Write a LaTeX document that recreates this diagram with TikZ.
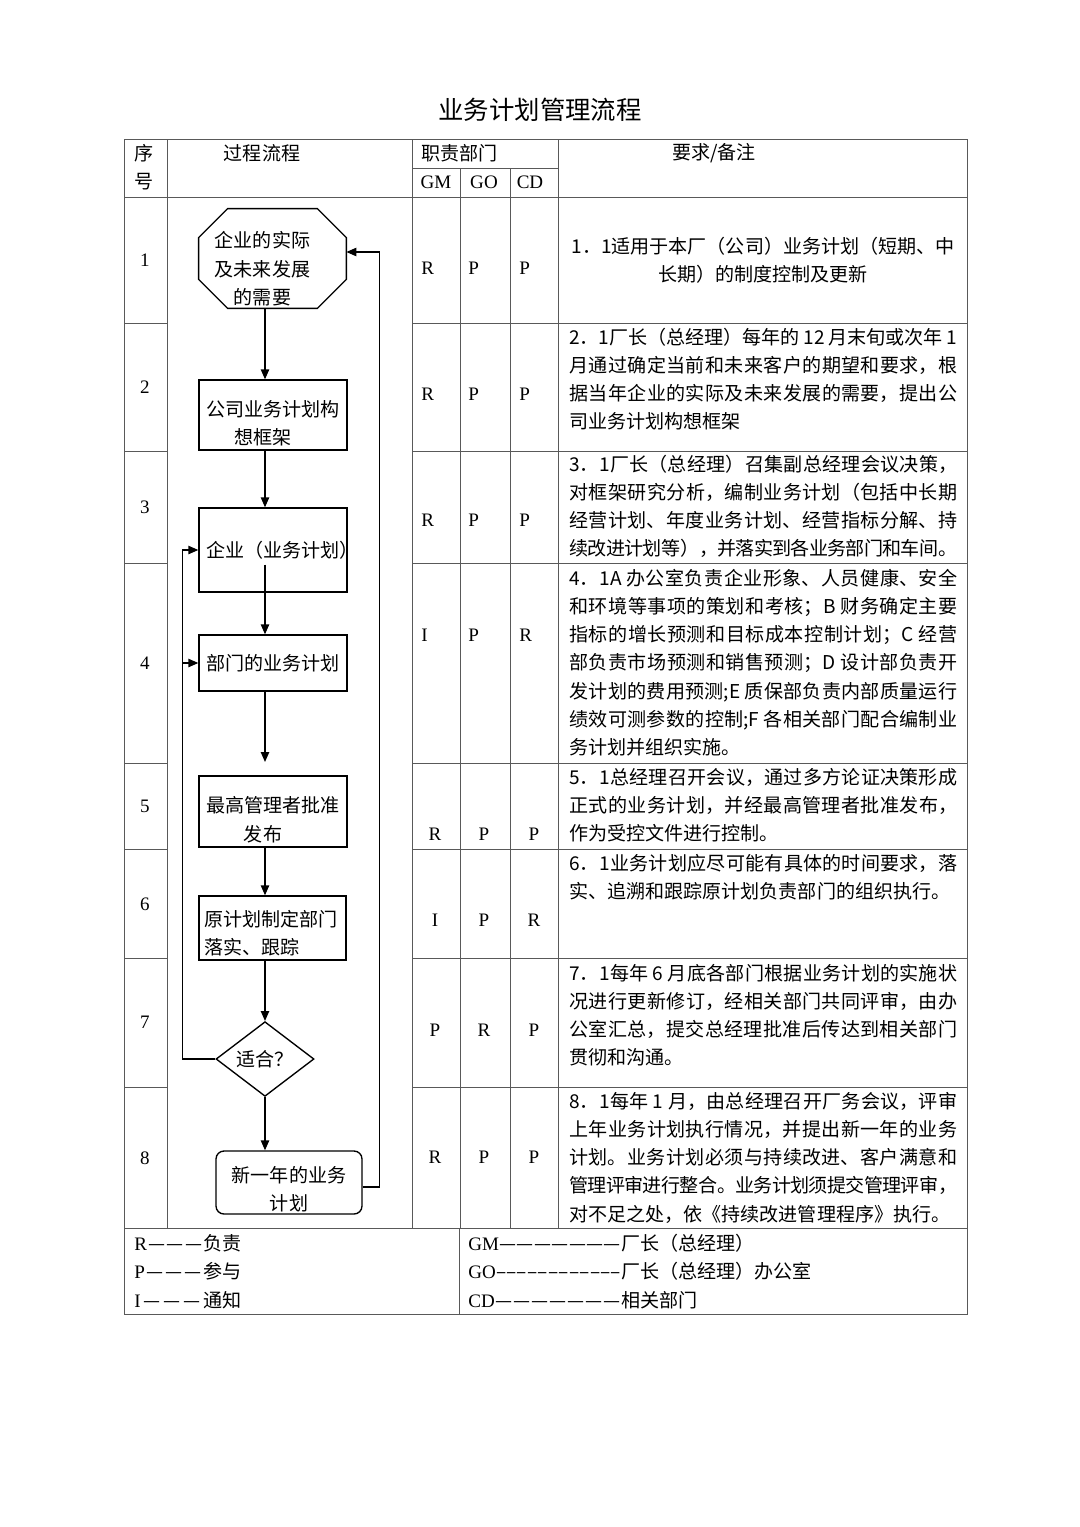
\documentclass[tikz,border=0pt]{standalone}
\usepackage{fontspec}
\setmainfont{Noto Sans CJK SC}
\newfontfamily\tm{Liberation Serif}
\usetikzlibrary{arrows.meta,shapes.geometric,calc}
\XeTeXlinebreaklocale "zh"
\XeTeXlinebreakskip=0pt plus 2pt minus 0.8pt
\linepenalty=9000
\tolerance=10000
\newlength{\pxd}
\setlength{\pxd}{0.5512pt}
\tikzset{
  grid/.style={line width=0.5pt, black!65},
  flow/.style={line width=0.75pt, -{Triangle[length=5.5pt,width=4.6pt]}},
  wh/.style={font=\fontsize{10.5}{15.6}\selectfont},
  proc/.style={draw, line width=0.75pt, wh, inner sep=0pt, minimum width=148*\pxd, align=center},
  note/.style={wh, inner sep=0pt, anchor=base west, text width=388*\pxd, align=justify},
  raci/.style={font=\tm\fontsize{10.5}{12}\selectfont, inner sep=0pt},
}
\begin{document}
\begin{tikzpicture}[x=0.5512pt, y=-0.5512pt]
  \path[use as bounding box, fill=white] (0,0) rectangle (1080,1527);
  \node[font=\fontsize{14}{16}\selectfont] (title) at (540,110) {业务计划管理流程};
  % table
  \draw[grid] (124,139) rectangle (967,1314);
  \draw[grid] (124,197) -- (967,197);
  \draw[grid] (124,1228) -- (967,1228);
  \draw[grid] (412,168) -- (558,168);
  \foreach \x in {167,412,558} \draw[grid] (\x,139) -- (\x,1228);
  \foreach \x in {460,510} \draw[grid] (\x,168) -- (\x,1228);
  \draw[grid] (459,1228) -- (459,1314);
  \foreach \y in {323,451,563,763,849,958,1087} {
    \draw[grid] (124,\y) -- (167,\y);
    \draw[grid] (412,\y) -- (967,\y);
  }
  \node[wh] (hxu) at (144,153) {序};
  \node[wh] (hhao) at (144,182) {号};
  \node[wh] (hflow) at (262,153) {过程流程};
  \node[wh, anchor=west, inner sep=0pt] (hdept) at (421,153) {职责部门};
  \node[raci] (hgm) at (436,182) {GM};
  \node[raci] (hgo) at (484,182) {GO};
  \node[raci] (hcd) at (530,182) {CD};
  \node[wh] (hnote) at (714,153) {要求/备注};
  \foreach \n/\y in {1/260,2/387,3/507,4/663,5/806,6/904,7/1022,8/1158}
    \node[raci] (no\n) at (145,\y) {\n};
  \foreach \r/\y/\a/\b/\c in {1/268/R/P/P,2/394/R/P/P,3/520/R/P/P,4/635/I/P/R} {
    \node[raci, anchor=west] (g\r) at (421,\y) {\a};
    \node[raci, anchor=west] (o\r) at (468,\y) {\b};
    \node[raci, anchor=west] (c\r) at (519,\y) {\c};
  }
  \foreach \r/\y/\a/\b/\c in {5/834/R/P/P,6/920/I/P/R,7/1030/P/R/P,8/1157/R/P/P} {
    \node[raci] (g\r) at (435,\y) {\a};
    \node[raci] (o\r) at (484,\y) {\b};
    \node[raci] (c\r) at (534,\y) {\c};
  }
  % flow
  \node[wh, inner sep=0pt, minimum width=147*\pxd, minimum height=99*\pxd, text height=51.5pt, align=center] (need) at (272.5,258.5) {企业的实际\rule{20\pxd}{0pt}\\及未来发展\rule{20\pxd}{0pt}\\的需要\rule{20\pxd}{0pt}};
  \draw[line width=0.75pt] ($(need.north west)+(29,0)$) -- ($(need.north east)+(-29,0)$)
    -- ($(need.north east)+(0,29)$) -- ($(need.south east)+(0,-29)$)
    -- ($(need.south east)+(-29,0)$) -- ($(need.south west)+(29,0)$)
    -- ($(need.south west)+(0,-29)$) -- ($(need.north west)+(0,29)$) -- cycle;
  \node[proc, minimum height=70*\pxd, text height=33.7pt] (frame) at (273,415) {公司业务计划构\\想框架\rule{20\pxd}{0pt}};
  \node[proc, minimum height=84*\pxd] (corp) at (273,550) {\makebox[134\pxd][l]{企业（业务计划）}};
  \node[proc, minimum height=56*\pxd] (dept) at (273,663) {部门的业务计划};
  \node[proc, minimum height=71*\pxd, text height=33.7pt] (issue) at (273,811.5) {最高管理者批准\\发布\rule{20\pxd}{0pt}};
  \node[proc, minimum width=147*\pxd, minimum height=64*\pxd, text height=14.8pt, text width=136*\pxd, align=left] (track) at (272.5,928) {原计划制定部门\\落实、跟踪};
  \node[draw, diamond, line width=0.75pt, wh, inner sep=0pt, minimum width=98*\pxd, minimum height=56*\pxd] (fit) at (265,1059) {适合？};
  \node[proc, rounded corners=8*\pxd, minimum width=146*\pxd, minimum height=63*\pxd, text height=31.5pt] (newplan) at (289,1182.5) {新一年的业务\\计划};
  \coordinate (gap) at (265,762);
  \draw[flow] (need.south -| fit.center) -- (frame.north -| fit.center);
  \draw[flow] (frame.south -| fit.center) -- (corp.north -| fit.center);
  \draw[flow] ($(corp.south -| fit.center)+(0,-28)$) -- (dept.north -| fit.center);
  \draw[flow] (dept.south -| fit.center) -- (gap);
  \draw[flow] (issue.south -| fit.center) -- (track.north -| fit.center);
  \draw[flow] (track.south -| fit.center) -- (fit.north);
  \draw[flow] (fit.south) -- (newplan.north -| fit.center);
  \draw[flow] ([yshift=-4.5*\pxd]newplan.east) -- ++(17,0) |- ([yshift=6.5*\pxd]need.east);
  \coordinate (back) at ($(fit.west)+(-33,0)$);
  \draw[flow] (fit.west) -- (back) |- (corp.west);
  \draw[flow] (back |- dept.west) -- (dept.west);
  % notes
  \node[wh, inner sep=0pt, align=center] (r1) at (763,260) {1．1适用于本厂（公司）业务计划（短期、中\\长期）的制度控制及更新};
  \node[note] (r2) at (569,344) {2．1厂长（总经理）每年的 12 月末旬或次年 1\linebreak 月通过确定当前和未来客户的期望和要求，根\linebreak 据当年企业的实际及未来发展的需要，提出公\linebreak 司业务计划构想框架};
  \node[note] (r3) at (569,471) {3．1厂长（总经理）召集副总经理会议决策，\linebreak 对框架研究分析，编制业务计划（包括中长期\linebreak 经营计划、年度业务计划、经营指标分解、持\linebreak 续改进计划等），并落实到各业务部门和车间。};
  \node[note] (r4) at (569,585) {4．1A 办公室负责企业形象、人员健康、安全\linebreak 和环境等事项的策划和考核；B 财务确定主要\linebreak 指标的增长预测和目标成本控制计划；C 经营\linebreak 部负责市场预测和销售预测；D 设计部负责开\linebreak 发计划的费用预测;E 质保部负责内部质量运行\linebreak 绩效可测参数的控制;F 各相关部门配合编制业\linebreak 务计划并组织实施。};
  \node[note] (r5) at (569,784) {5．1总经理召开会议，通过多方论证决策形成\linebreak 正式的业务计划，并经最高管理者批准发布，\linebreak 作为受控文件进行控制。};
  \node[note] (r6) at (569,870) {6．1业务计划应尽可能有具体的时间要求，落\linebreak 实、追溯和跟踪原计划负责部门的组织执行。};
  \node[note] (r7) at (569,980) {7．1每年 6 月底各部门根据业务计划的实施状\linebreak 况进行更新修订，经相关部门共同评审，由办\linebreak 公室汇总，提交总经理批准后传达到相关部门\linebreak 贯彻和沟通。};
  \node[note] (r8) at (569,1108) {8．1每年 1 月，由总经理召开厂务会议，评审\linebreak 上年业务计划执行情况，并提出新一年的业务\linebreak 计划。业务计划必须与持续改进、客户满意和\linebreak 管理评审进行整合。业务计划须提交管理评审，\linebreak 对不足之处，依《持续改进管理程序》执行。};
  % legend
  \node[wh, anchor=west, inner sep=0pt] (lr) at (134,1243) {\makebox[69\pxd][l]{{\tm R}\xleaders\hbox{—}\hfill}负责};
  \node[wh, anchor=west, inner sep=0pt] (lp) at (134,1271) {\makebox[69\pxd][l]{{\tm P}\xleaders\hbox{—}\hfill}参与};
  \node[wh, anchor=west, inner sep=0pt] (li) at (134,1300) {\makebox[69\pxd][l]{{\tm I}\xleaders\hbox{—}\hfill}通知};
  \node[wh, anchor=west, inner sep=0pt] (lgm) at (468,1243) {\makebox[153\pxd][l]{{\tm GM}\xleaders\hbox{—}\hfill}厂长（总经理）};
  \node[wh, anchor=west, inner sep=0pt] (lgo) at (468,1271) {\makebox[153\pxd][l]{{\tm GO}\xleaders\hbox{–}\hfill}厂长（总经理）办公室};
  \node[wh, anchor=west, inner sep=0pt] (lcd) at (468,1300) {\makebox[153\pxd][l]{{\tm CD}\xleaders\hbox{—}\hfill}相关部门};
\end{tikzpicture}
\end{document}
